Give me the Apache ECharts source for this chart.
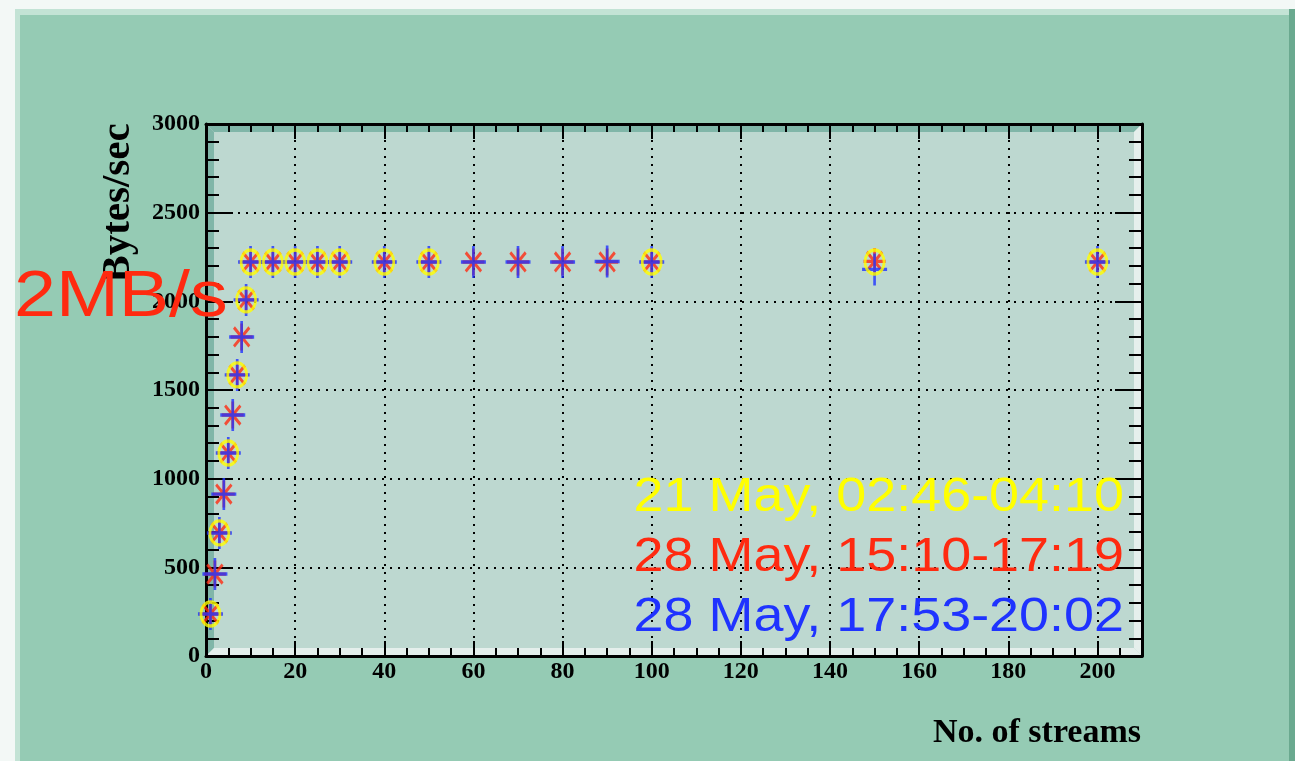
<!DOCTYPE html>
<html><head><meta charset="utf-8">
<script src="https://cdn.jsdelivr.net/npm/echarts@6/dist/echarts.min.js"></script>
<style>html,body{margin:0;padding:0;background:#f3f8f6}#c{width:1295px;height:761px}</style>
</head><body><div id="c"></div>
<script>
// ---- data ----
const streams = [1,2,3,4,5,6,7,8,9,10,15,20,25,30,40,50,60,70,80,90,100,150,200];
const may28EarlyRate = [237,462,694,913,1145,1359,1585,1799,2008,2222,2222,2222,2222,2222,2222,2222,2222,2222,2222,2222,2222,2225,2222];
const may28LateRate  = [237,462,694,913,1145,1359,1585,1799,2008,2222,2222,2222,2222,2222,2222,2222,2222,2222,2222,2225,2222,2180,2222];
const may21Streams = [1,3,5,7,9,10,15,20,25,30,40,50,100,150,200];
const may21Rate    = [237,694,1145,1585,2008,2222,2222,2222,2222,2222,2222,2222,2222,2222,2222];
const legendLabels = ['21 May, 02:46-04:10','28 May, 15:10-17:19','28 May, 17:53-20:02'];
const annotation = '2MB/s';
const xTitle = 'No. of streams';
const yTitle = 'Bytes/sec';

// ---- layout / style ----
const G = {left:206, top:124, width:936, height:532};
const L = G.left, T = G.top, R = G.left + G.width, B = G.top + G.height, bv = 8;
const serif = '"Liberation Serif","Times New Roman",serif';
const sans = '"Liberation Sans",Arial,sans-serif';
const RED = '#ff2a10', BLUE = '#1f33ff', YEL = '#ffff00';

const zip = (xs, ys) => xs.map((x, i) => [x, ys[i]]);

const asterisk = 'path://M0,5L10,5M5,0L5,10M1.5,1.5L8.5,8.5M8.5,1.5L1.5,8.5';
const plus = 'path://M0,5L10,5M5,0L5,10';
const ellipse = 'path://M0,5A5,5,0,1,0,10,5A5,5,0,1,0,0,5Z';

const labelFont = {fontFamily: serif, fontWeight: 'bold', fontSize: 24, color: '#000'};
const dotted = {color: '#000', type: [2, 6], width: 2};
const blackLine = {color: '#000', width: 3};
const tickLine = {color: '#000', width: 2};

function xAxisDef(pos, major) {
  return {
    type: 'value', position: pos, min: 0, max: 210, interval: major ? 20 : 5,
    axisLine: {show: major, onZero: false, lineStyle: blackLine},
    axisTick: {show: true, inside: true, length: major ? 15 : 8, lineStyle: tickLine},
    axisLabel: (major && pos === 'bottom') ? Object.assign({
      show: true, margin: 4, showMaxLabel: false,
      formatter: v => (v % 20 === 0 && v <= 200) ? String(v) : ''
    }, labelFont) : {show: false},
    splitLine: (major && pos === 'bottom') ? {show: true, lineStyle: dotted} : {show: false},
    minorTick: {show: false}
  };
}
function yAxisDef(pos) {
  const main = pos === 'left';
  return {
    type: 'value', position: pos, min: 0, max: 3000, interval: 500,
    axisLine: {show: true, onZero: false, lineStyle: blackLine},
    axisTick: {show: true, inside: true, length: 27, lineStyle: tickLine},
    minorTick: {show: true, splitNumber: 5, length: 13, lineStyle: tickLine},
    axisLabel: main ? Object.assign({show: true, margin: 6, formatter: v => String(v)}, labelFont) : {show: false},
    splitLine: main ? {show: true, lineStyle: dotted} : {show: false}
  };
}

function poly(points, fill) {
  return {type: 'polygon', z: -1, silent: true, shape: {points}, style: {fill}};
}

const chart = echarts.init(document.getElementById('c'), null, {renderer: 'canvas'});
chart.setOption({
  animation: false,
  backgroundColor: '#f3f8f6',
  grid: Object.assign({show: false, containLabel: false}, G),
  xAxis: [xAxisDef('bottom', true), xAxisDef('bottom', false), xAxisDef('top', true), xAxisDef('top', false)],
  yAxis: [yAxisDef('left'), yAxisDef('right')],
  graphic: {elements: [
    // outer pad with bevel
    {type: 'rect', z: -3, silent: true, shape: {x: 15, y: 9, width: 1280, height: 760}, style: {fill: '#c3e3d5'}},
    {type: 'rect', z: -3, silent: true, shape: {x: 1289, y: 9, width: 6, height: 760}, style: {fill: '#6aa98f'}},
    {type: 'rect', z: -2, silent: true, shape: {x: 20, y: 15, width: 1269, height: 760}, style: {fill: '#95cbb4'}},
    // plot area with bevel
    {type: 'rect', z: -2, silent: true, shape: {x: L, y: T, width: G.width, height: G.height}, style: {fill: '#bdd8d0'}},
    poly([[L,T],[R,T],[R-bv,T+bv],[L+bv,T+bv]], '#80b6a8'),
    poly([[L,T],[L+bv,T+bv],[L+bv,B-bv],[L,B]], '#80b6a8'),
    poly([[L,B],[L+bv,B-bv],[R-bv,B-bv],[R,B]], '#e5efec'),
    poly([[R,T],[R,B],[R-bv,B-bv],[R-bv,T+bv]], '#e5efec'),
    // texts
    {type: 'text', z: 10, silent: true, x: 118, y: 203, rotation: Math.PI / 2,
     style: {text: yTitle, font: 'bold 41px ' + serif, fill: '#000', textAlign: 'center', textVerticalAlign: 'middle'}},
    {type: 'text', z: 10, silent: true, x: 1141, y: 733,
     style: {text: xTitle, font: 'bold 34px ' + serif, fill: '#000', textAlign: 'right', textVerticalAlign: 'middle'}},
    {type: 'text', z: 10, silent: true, x: 14, y: 298, scaleX: 1.16,
     style: {text: annotation, font: '65px ' + sans, fill: RED, textAlign: 'left', textVerticalAlign: 'middle'}},
    {type: 'text', z: 10, silent: true, x: 1124, y: 497, scaleX: 1.1,
     style: {text: legendLabels[0], font: '49px ' + sans, fill: YEL, textAlign: 'right', textVerticalAlign: 'middle'}},
    {type: 'text', z: 10, silent: true, x: 1124, y: 557, scaleX: 1.1,
     style: {text: legendLabels[1], font: '49px ' + sans, fill: RED, textAlign: 'right', textVerticalAlign: 'middle'}},
    {type: 'text', z: 10, silent: true, x: 1124, y: 617, scaleX: 1.1,
     style: {text: legendLabels[2], font: '49px ' + sans, fill: BLUE, textAlign: 'right', textVerticalAlign: 'middle'}}
  ]},
  series: [
    {name: legendLabels[1], type: 'scatter', xAxisIndex: 0, yAxisIndex: 0, silent: true,
     data: zip(streams, may28EarlyRate), symbol: asterisk, symbolSize: [22, 27],
     itemStyle: {color: 'rgba(0,0,0,0)', borderColor: RED, borderWidth: 3}},
    {name: legendLabels[2], type: 'scatter', xAxisIndex: 0, yAxisIndex: 0, silent: true,
     data: zip(streams, may28LateRate), symbol: plus, symbolSize: [25, 32],
     itemStyle: {color: 'rgba(0,0,0,0)', borderColor: BLUE, borderWidth: 3}},
    {name: legendLabels[0], type: 'scatter', xAxisIndex: 0, yAxisIndex: 0, silent: true,
     data: zip(may21Streams, may21Rate), symbol: ellipse, symbolSize: [19, 24],
     itemStyle: {color: 'rgba(0,0,0,0)', borderColor: YEL, borderWidth: 3}}
  ]
});
</script></body></html>
